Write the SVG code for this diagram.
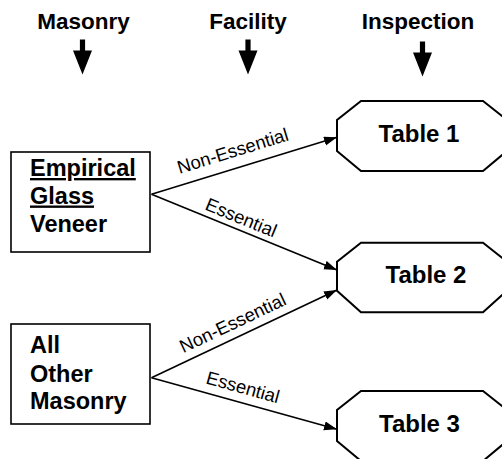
<svg xmlns="http://www.w3.org/2000/svg" width="502" height="459" viewBox="0 0 502 459">
  <style>
    .hdr { font-family: "Liberation Sans", Arial, sans-serif; font-weight: bold; font-size: 22.5px; fill: #000; text-anchor: middle; }
    .box { fill: #fff; stroke: #000; stroke-width: 1.6; }
    .oct { fill: #fff; stroke: #000; stroke-width: 2; }
    .btxt { font-family: "Liberation Sans", Arial, sans-serif; font-weight: bold; font-size: 23.5px; fill: #000; }
    .ttxt { font-family: "Liberation Sans", Arial, sans-serif; font-weight: bold; font-size: 24px; fill: #000; text-anchor: middle; }
    .conn { stroke: #000; stroke-width: 1.6; fill: none; marker-end: url(#ah); }
    .lbl { font-family: "Liberation Sans", Arial, sans-serif; font-size: 18.5px; fill: #000; }
  </style>
  <defs>
    <marker id="ah" markerUnits="userSpaceOnUse" markerWidth="14" markerHeight="10" refX="13" refY="4.5" orient="auto">
      <path d="M0,0 L13,4.5 L0,9 Z" fill="#000"/>
    </marker>
    <path id="darrow" d="M-2.6,0 H2.6 V11 H9.5 L0,35 L-9.5,11 H-2.6 Z" fill="#000"/>
  </defs>
  <rect width="502" height="459" fill="#fff"/>

  <g id="headers">
    <text class="hdr" x="83.5" y="29">Masonry</text>
    <text class="hdr" x="248" y="29">Facility</text>
    <text class="hdr" x="418" y="29">Inspection</text>
    <use href="#darrow" x="82.5" y="39.5"/>
    <use href="#darrow" x="248" y="39.5"/>
    <use href="#darrow" x="422.5" y="41.5"/>
  </g>

  <g id="connectors">
    <line class="conn" x1="151.5" y1="194.3" x2="337" y2="137.3"/>
    <line class="conn" x1="151.5" y1="194.3" x2="337" y2="270"/>
    <line class="conn" x1="151.5" y1="377.7" x2="337" y2="290"/>
    <line class="conn" x1="151.5" y1="377.7" x2="337" y2="429.3"/>
    <text class="lbl" transform="translate(179.5,174) rotate(-17.1)">Non-Essential</text>
    <text class="lbl" transform="translate(204,209.3) rotate(22.2)">Essential</text>
    <text class="lbl" transform="translate(183.3,353.3) rotate(-25.3)">Non-Essential</text>
    <text class="lbl" transform="translate(205,383.3) rotate(15.5)">Essential</text>
  </g>

  <g id="box-empirical">
    <rect class="box" x="11" y="152" width="139" height="100"/>
    <text class="btxt" x="30" y="176" text-decoration="underline">Empirical</text>
    <text class="btxt" x="30" y="203.5" text-decoration="underline">Glass</text>
    <text class="btxt" x="30" y="231.5">Veneer</text>
  </g>

  <g id="box-other">
    <rect class="box" x="11" y="324" width="139" height="100"/>
    <text class="btxt" x="30" y="353.3">All</text>
    <text class="btxt" x="30" y="381.5">Other</text>
    <text class="btxt" x="30" y="409.3">Masonry</text>
  </g>

  <g id="table1">
    <path class="oct" d="M361,101 H483 L507,120 V151 L483,171 H361 L337,151 V120 Z"/>
    <text class="ttxt" x="419" y="141.7">Table 1</text>
  </g>

  <g id="table2">
    <path class="oct" d="M361,242.7 H483 L507,261.7 V290.7 L483,312.3 H361 L337,290.7 V261.7 Z"/>
    <text class="ttxt" x="426" y="283.3">Table 2</text>
  </g>

  <g id="table3">
    <path class="oct" d="M361,391 H483 L507,410 V441 L483,461 H361 L337,441 V410 Z"/>
    <text class="ttxt" x="419.5" y="431.7">Table 3</text>
  </g>
</svg>
